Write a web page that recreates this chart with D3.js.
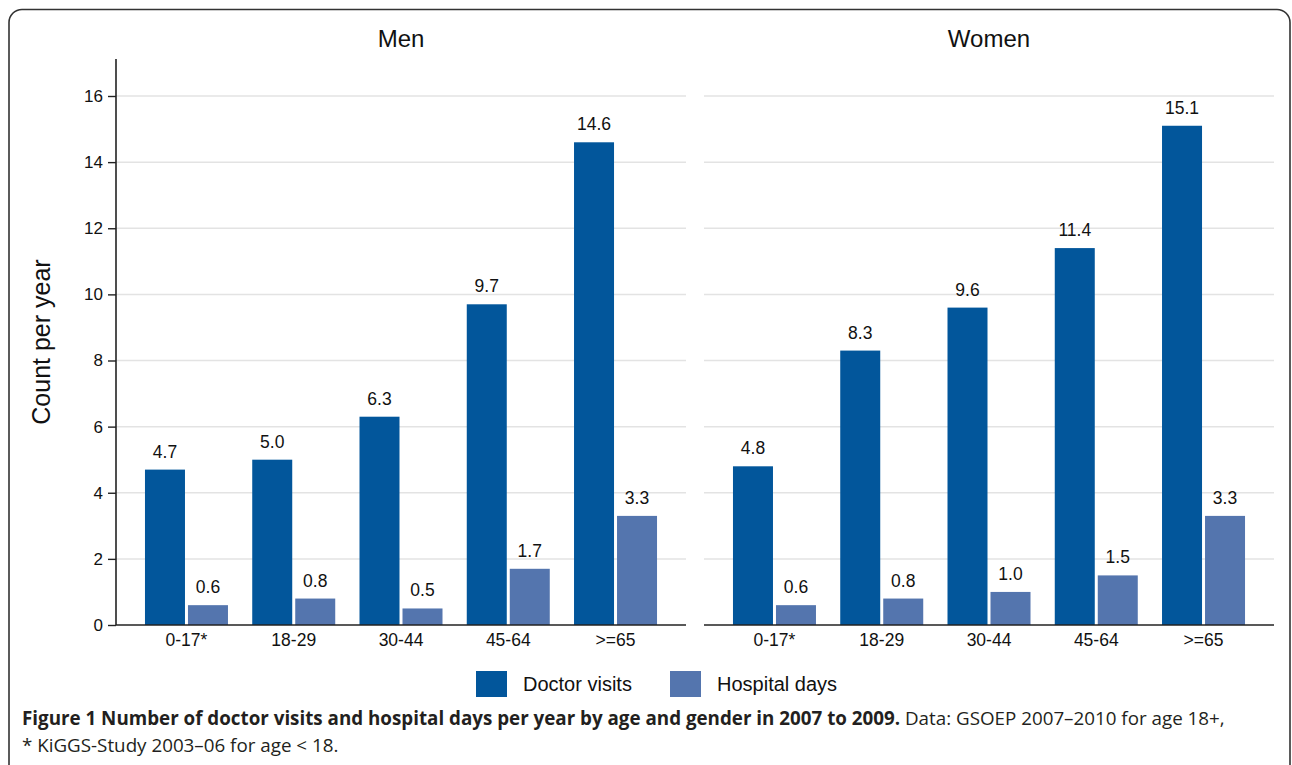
<!DOCTYPE html>
<html>
<head>
<meta charset="utf-8">
<script src="https://cdn.jsdelivr.net/npm/d3@7"></script>
<style>
  body { margin: 0; background: #fff; }
  svg text { font-family: "Liberation Sans", Arial, sans-serif; fill: #111; }
  .caption text { font-family: "Open Sans", sans-serif; fill: #231f20; }
</style>
</head>
<body>
<div id="chart"></div>
<script>
// data
var ageGroups = ["0-17*", "18-29", "30-44", "45-64", ">=65"];
var menDoctor = [4.7, 5.0, 6.3, 9.7, 14.6];
var menHospital = [0.6, 0.8, 0.5, 1.7, 3.3];
var womenDoctor = [4.8, 8.3, 9.6, 11.4, 15.1];
var womenHospital = [0.6, 0.8, 1.0, 1.5, 3.3];
var yTicks = [0, 2, 4, 6, 8, 10, 12, 14, 16];
var seriesNames = ["Doctor visits", "Hospital days"];
var panelNames = ["Men", "Women"];

var width = 1292;
var height = 765;
var colors = ["#02569b", "#5475ae"];

var svg = d3.select("#chart")
  .append("svg")
  .attr("width", width)
  .attr("height", height);

// outer rounded frame
svg.append("rect")
  .attr("x", 9)
  .attr("y", 9.5)
  .attr("width", 1281)
  .attr("height", 820)
  .attr("rx", 13)
  .attr("fill", "none")
  .attr("stroke", "#333")
  .attr("stroke-width", 1.6);

var y = d3.scaleLinear().domain([0, 16]).range([625, 96]);

var panels = [
  { name: panelNames[0], x0: 116, x1: 686, doctor: menDoctor, hospital: menHospital },
  { name: panelNames[1], x0: 704, x1: 1274, doctor: womenDoctor, hospital: womenHospital }
];

var barW = 40;
var gap = 3;

panels.forEach(function(p, pi) {
  var g = svg.append("g");

  // gridlines
  g.selectAll(".grid")
    .data(yTicks.filter(function(t) { return t > 0; }))
    .enter()
    .append("line")
    .attr("x1", p.x0)
    .attr("x2", p.x1)
    .attr("y1", function(d) { return y(d); })
    .attr("y2", function(d) { return y(d); })
    .attr("stroke", "#e3e3e3")
    .attr("stroke-width", 1.5);

  var x = d3.scaleBand()
    .domain(ageGroups)
    .range([p.x0, p.x1])
    .paddingInner(0)
    .paddingOuter(0.157);

  var rows = ageGroups.map(function(a, i) {
    return { age: a, vals: [p.doctor[i], p.hospital[i]] };
  });

  var grp = g.selectAll(".grp")
    .data(rows)
    .enter()
    .append("g")
    .attr("transform", function(d) {
      return "translate(" + (x(d.age) + x.bandwidth() / 2) + ",0)";
    });

  var bars = grp.selectAll("rect")
    .data(function(d) { return d.vals; })
    .enter();

  bars.append("rect")
    .attr("x", function(d, i) { return i === 0 ? -barW - gap / 2 : gap / 2; })
    .attr("y", function(d) { return y(d); })
    .attr("width", barW)
    .attr("height", function(d) { return y(0) - y(d); })
    .attr("fill", function(d, i) { return colors[i]; });

  bars.append("text")
    .attr("x", function(d, i) { return (i === 0 ? -barW - gap / 2 : gap / 2) + barW / 2; })
    .attr("y", function(d) { return y(d) - 12; })
    .attr("text-anchor", "middle")
    .attr("font-size", 17.5)
    .text(function(d) { return d3.format(".1f")(d); });

  // x axis
  var xAxis = g.append("g")
    .attr("transform", "translate(0," + y(0) + ")")
    .call(d3.axisBottom(x).tickSize(0).tickPadding(9));
  xAxis.select(".domain")
    .attr("d", "M" + p.x0 + ",0H" + p.x1)
    .attr("stroke", "#222")
    .attr("stroke-width", 1.6);
  xAxis.selectAll("text")
    .attr("font-size", 17.5)
    .attr("font-family", "Liberation Sans, Arial, sans-serif")
    .attr("fill", "#111");

  // panel title
  g.append("text")
    .attr("x", (p.x0 + p.x1) / 2)
    .attr("y", 47)
    .attr("text-anchor", "middle")
    .attr("font-size", 24)
    .text(p.name);

  if (pi === 0) {
    var yAxis = g.append("g")
      .attr("transform", "translate(" + p.x0 + ",0)")
      .call(d3.axisLeft(y).tickValues(yTicks).tickSize(8).tickPadding(5));
    yAxis.select(".domain")
      .attr("d", "M0," + y(17.12) + "V" + y(0))
      .attr("stroke", "#222")
      .attr("stroke-width", 1.6);
    yAxis.selectAll(".tick line").attr("stroke", "#222").attr("stroke-width", 1.4);
    yAxis.selectAll("text")
      .attr("font-size", 17)
      .attr("font-family", "Liberation Sans, Arial, sans-serif")
      .attr("fill", "#111");
  }
});

// y axis title
svg.append("text")
  .attr("transform", "translate(50,342)rotate(-90)")
  .attr("text-anchor", "middle")
  .attr("font-size", 25)
  .text("Count per year");

// legend
var legendX = [476, 670];
seriesNames.forEach(function(s, i) {
  svg.append("rect")
    .attr("x", legendX[i])
    .attr("y", 671)
    .attr("width", 31)
    .attr("height", 26)
    .attr("fill", colors[i]);
  svg.append("text")
    .attr("x", legendX[i] + 47)
    .attr("y", 691)
    .attr("font-size", 20)
    .text(s);
});

// caption
var cap = svg.append("g").attr("class", "caption");
var line1 = cap.append("text")
  .attr("x", 22)
  .attr("y", 725)
  .attr("font-size", 18.8);
line1.append("tspan")
  .attr("font-weight", "bold")
  .text("Figure 1 Number of doctor visits and hospital days per year by age and gender in 2007 to 2009.");
line1.append("tspan")
  .text(" Data: GSOEP 2007\u20132010 for age 18+,");
cap.append("text")
  .attr("x", 22)
  .attr("y", 752)
  .attr("font-size", 18.8)
  .text("* KiGGS-Study 2003\u201306 for age < 18.");
</script>
</body>
</html>
